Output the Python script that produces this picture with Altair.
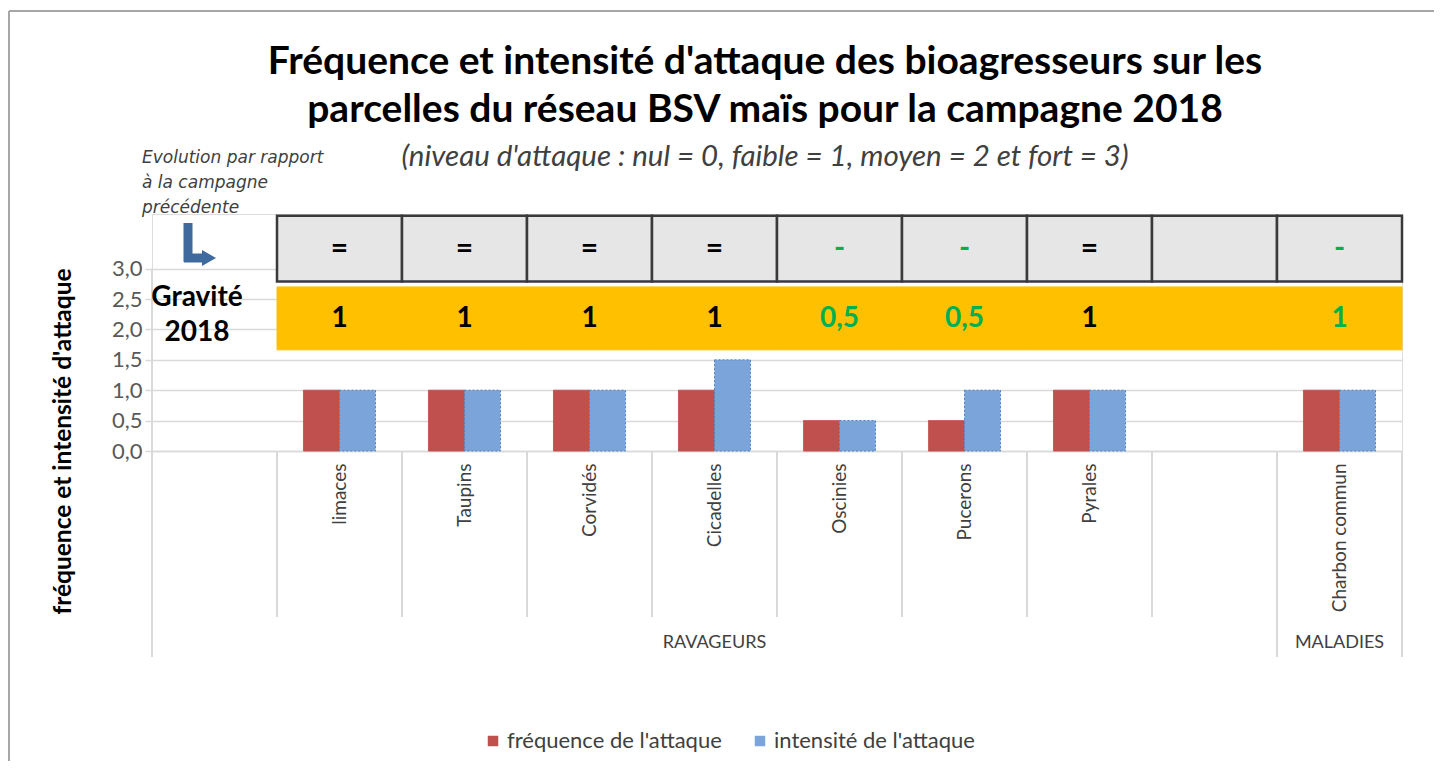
import altair as alt
import pandas as pd

# ---------------- data ----------------
categories = ["_a", "limaces", "Taupins", "Corvidés", "Cicadelles", "Oscinies",
              "Pucerons", "Pyrales", "_b", "Charbon commun"]
pests = ["limaces", "Taupins", "Corvidés", "Cicadelles", "Oscinies",
         "Pucerons", "Pyrales", "Charbon commun"]
frequence = [1.0, 1.0, 1.0, 1.0, 0.5, 0.5, 1.0, 1.0]
intensite = [1.0, 1.0, 1.0, 1.5, 0.5, 1.0, 1.0, 1.0]
series_names = ["fréquence de l'attaque", "intensité de l'attaque"]
series_colors = ["#C0504D", "#7BA4DB"]

table_cats = ["limaces", "Taupins", "Corvidés", "Cicadelles", "Oscinies",
              "Pucerons", "Pyrales", "_b", "Charbon commun"]
evolution = ["=", "=", "=", "=", "-", "-", "=", "", "-"]
gravite = ["1", "1", "1", "1", "0,5", "0,5", "1", "", "1"]
trend = ["stable", "stable", "stable", "stable", "baisse", "baisse", "stable", "aucun", "baisse"]

inner_bounds = ["limaces", "Taupins", "Corvidés", "Cicadelles", "Oscinies",
                "Pucerons", "Pyrales", "_b"]
group_names = ["RAVAGEURS", "MALADIES"]
group_center = ["Cicadelles", "Charbon commun"]

title_lines = ["Fréquence et intensité d'attaque des bioagresseurs sur les",
               "parcelles du réseau BSV maïs pour la campagne 2018"]
subtitle = "(niveau d'attaque : nul = 0, faible = 1, moyen = 2 et fort = 3)"
evol_note = ["Evolution par rapport", "à la campagne", "précédente"]
gravite_label = ["Gravité", "2018"]
y_title = "fréquence et intensité d'attaque"

# ---------------- tables ----------------
bar_df = pd.DataFrame({
    "cat": pests * 2,
    "serie": [series_names[0]] * len(pests) + [series_names[1]] * len(pests),
    "val": frequence + intensite,
})
table_df = pd.DataFrame({"cat": table_cats, "evo": evolution,
                         "grav": gravite, "trend": trend})
inner_df = pd.DataFrame({"cat": inner_bounds})
maladie_df = pd.DataFrame({"cat": ["Charbon commun"]})
group_df = pd.DataFrame({"cat": group_center, "name": group_names})
one = pd.DataFrame({"k": [0]})

W, H = 1250, 237
FONT = "Lato"
GRID = "#D9D9D9"

x_scale = alt.Scale(domain=categories, paddingInner=0, paddingOuter=0)
y_scale = alt.Scale(domain=[0, 3.9], nice=False)
trend_scale = alt.Scale(domain=["stable", "baisse", "aucun"],
                        range=["#000000", "#00B050", "#000000"])

x_axis = alt.Axis(labelAngle=-90, labelAlign="right", labelBaseline="middle",
                  labelPadding=12, labelFontSize=19, labelFont=FONT,
                  labelColor="#404040", ticks=False, grid=False,
                  domainColor=GRID, domainWidth=1.5, title=None, labelLimit=400,
                  labelExpr="indexof(datum.label, '_') == 0 ? '' : datum.label")
y_axis = alt.Axis(values=[0, 0.5, 1, 1.5, 2, 2.5, 3], grid=True, gridColor=GRID,
                  gridWidth=1.5, domain=False, tickColor=GRID, tickSize=7,
                  tickWidth=1.5, labelFontSize=22, labelFont=FONT,
                  labelColor="#595959", labelPadding=3,
                  labelExpr="replace(format(datum.value, '.1f'), '.', ',')",
                  title=y_title, titleFont=FONT, titleFontSize=24.5,
                  titleFontWeight="bold", titleColor="#000000", titleAngle=-90,
                  titleX=-89, titleY=227, titleAlign="center",
                  titleBaseline="middle")


def xcat(**kw):
    return alt.X("cat:N", scale=x_scale, axis=x_axis, **kw)


# border of chart area
border_top = alt.Chart(one).mark_rule(color="#A6A6A6", strokeWidth=2).encode(
    x=alt.value(-143), x2=alt.value(1300), y=alt.value(-203))
border_left = alt.Chart(one).mark_rule(color="#A6A6A6", strokeWidth=2).encode(
    x=alt.value(-143), y=alt.value(-203), y2=alt.value(560))

# vertical axis line (from 3,0 down to the group level)
yline = alt.Chart(one).mark_rule(color=GRID, strokeWidth=2).encode(
    x=alt.value(0), y=alt.Y(datum=3.0, scale=y_scale, axis=y_axis), y2=alt.value(443))

# category separators
inner_sep = alt.Chart(inner_df).mark_rule(color=GRID, strokeWidth=2).encode(
    x=alt.X("cat:N", scale=x_scale, axis=x_axis, bandPosition=0),
    y=alt.value(H), y2=alt.value(403))
mal_start = alt.Chart(maladie_df).mark_rule(color=GRID, strokeWidth=2).encode(
    x=alt.X("cat:N", scale=x_scale, axis=x_axis, bandPosition=0),
    y=alt.value(H), y2=alt.value(443))
mal_end = alt.Chart(maladie_df).mark_rule(color=GRID, strokeWidth=2).encode(
    x=alt.X("cat:N", scale=x_scale, axis=x_axis, bandPosition=1),
    y=alt.value(H), y2=alt.value(443))

bars = alt.Chart(bar_df).mark_bar().encode(
    x=xcat(),
    xOffset=alt.XOffset("serie:N", scale=alt.Scale(domain=series_names,
                                                   paddingOuter=0.735,
                                                   paddingInner=0)),
    y=alt.Y("val:Q", scale=y_scale, axis=y_axis),
    color=alt.Color("serie:N", scale=alt.Scale(domain=series_names, range=series_colors),
                    legend=alt.Legend(orient="none", legendX=330, legendY=516,
                                      direction="horizontal", title=None,
                                      symbolType="square", symbolSize=110,
                                      symbolStrokeWidth=0, labelFontSize=22,
                                      labelFont=FONT, labelColor="#404040",
                                      labelLimit=400, columnPadding=27,
                                      labelOffset=3)),
    stroke=alt.Stroke("serie:N", scale=alt.Scale(domain=series_names,
                                                 range=["#C0504D", "#4F81BD"]),
                      legend=None),
    strokeDash=alt.StrokeDash("serie:N", scale=alt.Scale(domain=series_names,
                                                         range=[[1, 0], [2, 2]]),
                              legend=None),
)

orange = alt.Chart(table_df).mark_rect(color="#FFC000", stroke="#FFC000", strokeWidth=1).encode(
    x=xcat(), y=alt.Y(datum=2.70, scale=y_scale, axis=y_axis), y2=alt.datum(1.665))

boxes = alt.Chart(table_df).mark_rect(fill="#E7E6E6", stroke="#3A3A3A", strokeWidth=2.5).encode(
    x=xcat(), y=alt.Y(datum=3.87, scale=y_scale, axis=y_axis), y2=alt.datum(2.79))

evo_text = alt.Chart(table_df).mark_text(fontSize=30, fontWeight="bold", font=FONT,
                                         baseline="middle").encode(
    x=xcat(), y=alt.Y(datum=3.33, scale=y_scale, axis=y_axis), text="evo:N",
    color=alt.Color("trend:N", scale=trend_scale, legend=None))

grav_text = alt.Chart(table_df).mark_text(fontSize=28, fontWeight="bold", font=FONT,
                                          baseline="middle").encode(
    x=xcat(), y=alt.Y(datum=2.17, scale=y_scale, axis=y_axis), text="grav:N",
    color=alt.Color("trend:N", scale=trend_scale, legend=None))

grav_label = alt.Chart(one).mark_text(text=gravite_label, fontSize=28, fontWeight="bold",
                                      font=FONT, lineHeight=35, baseline="middle",
                                      align="center", color="#000000").encode(
    x=alt.value(45), y=alt.value(84))

note = alt.Chart(one).mark_text(text=evol_note, fontSize=17, fontStyle="italic",
                                font="DejaVu Sans", lineHeight=25, baseline="middle",
                                align="left", color="#404040").encode(
    x=alt.value(-10), y=alt.value(-56))

arrow_v = alt.Chart(one).mark_rule(color="#3E6A9E", strokeWidth=9).encode(
    x=alt.value(36), y=alt.value(9), y2=alt.value(48))
arrow_h = alt.Chart(one).mark_rule(color="#3E6A9E", strokeWidth=9).encode(
    x=alt.value(32), x2=alt.value(52), y=alt.value(44))
arrow_head = alt.Chart(one).mark_point(shape="triangle-right", filled=True, size=260,
                                       color="#3E6A9E", opacity=1).encode(
    x=alt.value(57), y=alt.value(44))

title1 = alt.Chart(one).mark_text(text=title_lines, fontSize=39, fontWeight="bold", font=FONT,
                                  lineHeight=48, baseline="middle", align="center",
                                  color="#000000").encode(
    x=alt.value(613), y=alt.value(-152))
sub = alt.Chart(one).mark_text(text=subtitle, fontSize=29.5, fontStyle="italic", font=FONT,
                               baseline="middle", align="center", color="#404040").encode(
    x=alt.value(613), y=alt.value(-57))

groups = alt.Chart(group_df).mark_text(fontSize=18, font=FONT, color="#404040",
                                       baseline="middle").encode(
    x=xcat(), y=alt.value(429), text="name:N")

chart = alt.layer(
    border_top, border_left, yline, inner_sep, mal_start, mal_end,
    bars, orange, boxes, evo_text, grav_text, grav_label, note,
    arrow_v, arrow_h, arrow_head, title1, sub, groups
).resolve_scale(color="independent").properties(
    width=W, height=H,
    autosize=alt.AutoSizeParams(type="none"),
    padding={"left": 144, "top": 206, "right": 32, "bottom": 310},
).configure_view(stroke=None).configure(background="#FFFFFF")

chart.save("out.html", embed_options={"renderer": "svg", "actions": False})
